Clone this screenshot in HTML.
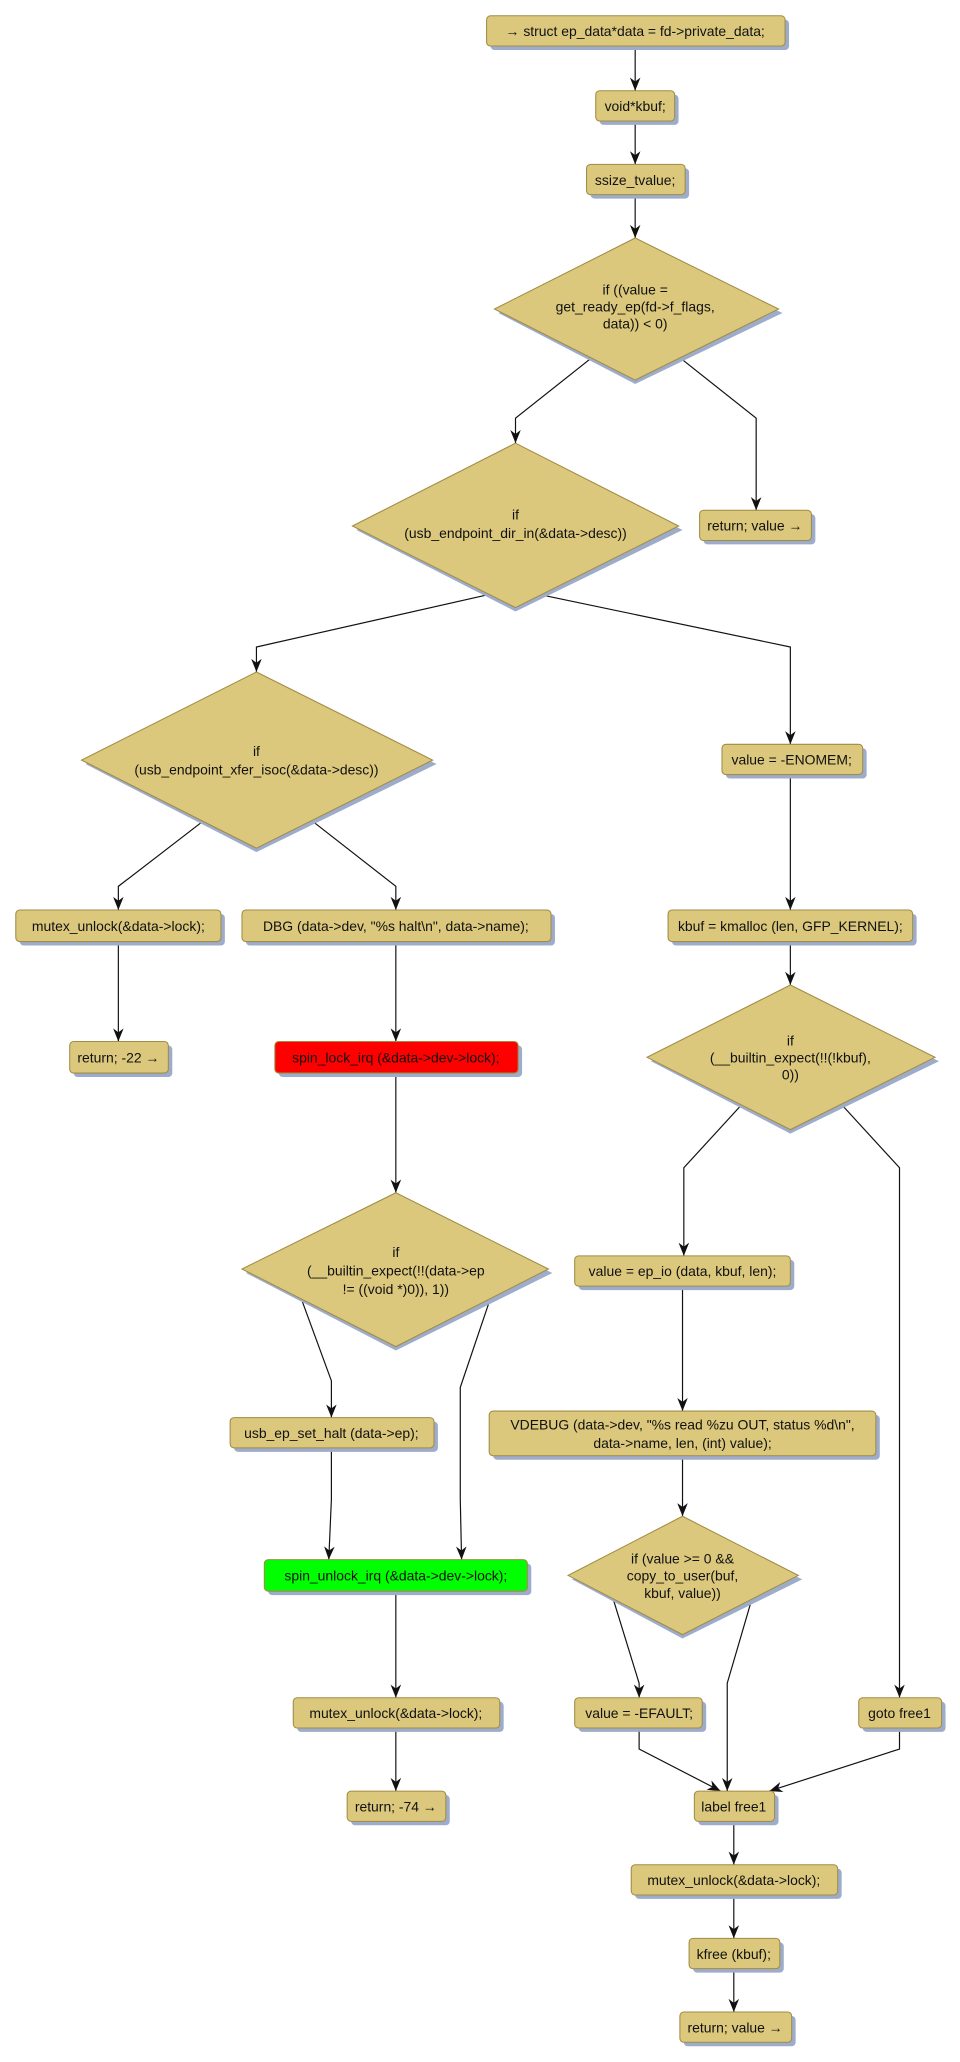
<!DOCTYPE html>
<html><head><meta charset="utf-8"><style>
html,body{margin:0;padding:0;background:#fff;}
svg{display:block;}
text{font-family:"Liberation Sans","DejaVu Sans",sans-serif;font-size:10.6px;fill:#111;text-anchor:middle;}
.n{fill:#dbc87c;stroke:#a08c45;stroke-width:0.8;}
.s{fill:#9eaccb;}
.e{fill:none;stroke:#111;stroke-width:0.9;}
</style></head><body>
<svg width="960" height="2062" viewBox="0 0 730 1568" preserveAspectRatio="none" xmlns="http://www.w3.org/2000/svg">
<defs>
<marker id="b" viewBox="0 0 10 8" markerWidth="10" markerHeight="8" refX="10" refY="4" orient="auto" markerUnits="userSpaceOnUse"><path d="M0,0 L10,4 L0,8 L3,4 Z" fill="#111"/></marker></defs>

<g class="e" marker-end="url(#b)">
<path d="M483,35 V69"/>
<path d="M483,92 V125"/>
<path d="M483,148 V181"/>
<path d="M450,272 L392,318 V337"/>
<path d="M517,272 L575,318 V388"/>
<path d="M372,452 L195,492 V511"/>
<path d="M410,452 L601,492 V566"/>
<path d="M155,624 L90,674 V692"/>
<path d="M237,624 L301,674 V692"/>
<path d="M601,589 V692"/>
<path d="M601,716 V749"/>
<path d="M90,716 V792"/>
<path d="M301,716 V792"/>
<path d="M301,816 V907"/>
<path d="M564,840 L520,888 V955"/>
<path d="M640,840 L684,888 V1291"/>
<path d="M230,990 L252,1050 V1078"/>
<path d="M372,990 L350,1055 V1140 L351,1186"/>
<path d="M519,978 V1073"/>
<path d="M252,1101 V1140 L250,1186"/>
<path d="M519,1107 V1153"/>
<path d="M466,1215 L486,1280 V1291"/>
<path d="M572,1215 L553,1280 V1362"/>
<path d="M301,1210 V1291"/>
<path d="M301,1314 V1362"/>
<path d="M486,1314 V1330 L548,1362"/>
<path d="M684,1314 V1330 L585,1362"/>
<path d="M558,1385 V1418"/>
<path d="M558,1441 V1474"/>
<path d="M558,1497 V1530"/>
</g>

<g>
<rect class="s" x="373" y="15" width="227" height="23" rx="3"/><rect class="n" x="370" y="12" width="227" height="23" rx="3"/>
<text x="483" y="27.5">→ struct ep_data*data = fd-&gt;private_data;</text>
<rect class="s" x="456" y="72" width="60" height="23" rx="3"/><rect class="n" x="453" y="69" width="60" height="23" rx="3"/>
<text x="483" y="84.5">void*kbuf;</text>
<rect class="s" x="449" y="128" width="75" height="23" rx="3"/><rect class="n" x="446" y="125" width="75" height="23" rx="3"/>
<text x="483" y="140.5">ssize_tvalue;</text>

<path class="s" d="M483,184 L595,238 L483,292 L379,238Z"/><path class="n" d="M483,181 L592,235 L483,289 L376,235Z"/>
<text x="483" y="224">if ((value =</text><text x="483" y="237">get_ready_ep(fd-&gt;f_flags,</text><text x="483" y="250">data)) &lt; 0)</text>

<rect class="s" x="535" y="391" width="85" height="23" rx="3"/><rect class="n" x="532" y="388" width="85" height="23" rx="3"/>
<text x="574" y="403.5">return; value →</text>

<path class="s" d="M392,340 L519,403 L392,465 L271,403Z"/><path class="n" d="M392,337 L516,400 L392,462 L268,400Z"/>
<text x="392" y="395">if</text><text x="392" y="409">(usb_endpoint_dir_in(&amp;data-&gt;desc))</text>

<path class="s" d="M195,514 L332,581 L195,648 L65,581Z"/><path class="n" d="M195,511 L329,578 L195,645 L62,578Z"/>
<text x="195" y="575">if</text><text x="195" y="589">(usb_endpoint_xfer_isoc(&amp;data-&gt;desc))</text>

<rect class="s" x="552" y="569" width="107" height="23" rx="3"/><rect class="n" x="549" y="566" width="107" height="23" rx="3"/>
<text x="602" y="581.5">value = -ENOMEM;</text>

<rect class="s" x="15" y="695" width="156" height="24" rx="3"/><rect class="n" x="12" y="692" width="156" height="24" rx="3"/>
<text x="90" y="708">mutex_unlock(&amp;data-&gt;lock);</text>
<rect class="s" x="187" y="695" width="235" height="24" rx="3"/><rect class="n" x="184" y="692" width="235" height="24" rx="3"/>
<text x="301" y="708">DBG (data-&gt;dev, "%s halt\n", data-&gt;name);</text>
<rect class="s" x="511" y="695" width="186" height="24" rx="3"/><rect class="n" x="508" y="692" width="186" height="24" rx="3"/>
<text x="601" y="708">kbuf = kmalloc (len, GFP_KERNEL);</text>

<rect class="s" x="56" y="795" width="75" height="24" rx="3"/><rect class="n" x="53" y="792" width="75" height="24" rx="3"/>
<text x="90" y="808">return; -22 →</text>
<rect class="s" x="212" y="795" width="185" height="24" rx="3"/><rect x="209" y="792" width="185" height="24" rx="3" fill="#ff0000" stroke="#a08c45" stroke-width="0.8"/>
<text x="301" y="808">spin_lock_irq (&amp;data-&gt;dev-&gt;lock);</text>

<path class="s" d="M601,752 L714,807 L601,862 L495,807Z"/><path class="n" d="M601,749 L711,804 L601,859 L492,804Z"/>
<text x="601" y="795">if</text><text x="601" y="808">(__builtin_expect(!!(!kbuf),</text><text x="601" y="821">0))</text>

<path class="s" d="M301,910 L420,968 L301,1027 L187,968Z"/><path class="n" d="M301,907 L417,965 L301,1024 L184,965Z"/>
<text x="301" y="956">if</text><text x="301" y="970">(__builtin_expect(!!(data-&gt;ep</text><text x="301" y="984">!= ((void *)0)), 1))</text>

<rect class="s" x="440" y="958" width="164" height="23" rx="3"/><rect class="n" x="437" y="955" width="164" height="23" rx="3"/>
<text x="519" y="970.5">value = ep_io (data, kbuf, len);</text>

<rect class="s" x="178" y="1081" width="155" height="23" rx="3"/><rect class="n" x="175" y="1078" width="155" height="23" rx="3"/>
<text x="252" y="1093.5">usb_ep_set_halt (data-&gt;ep);</text>

<rect class="s" x="375" y="1076" width="294" height="34" rx="3"/><rect class="n" x="372" y="1073" width="294" height="34" rx="3"/>
<text x="519" y="1087">VDEBUG (data-&gt;dev, "%s read %zu OUT, status %d\n",</text>
<text x="519" y="1101">data-&gt;name, len, (int) value);</text>

<rect class="s" x="204" y="1189" width="200" height="24" rx="3"/><rect x="201" y="1186" width="200" height="24" rx="3" fill="#00ff00" stroke="#a08c45" stroke-width="0.8"/>
<text x="301" y="1202">spin_unlock_irq (&amp;data-&gt;dev-&gt;lock);</text>

<path class="s" d="M519,1156 L610,1201 L519,1246 L435,1201Z"/><path class="n" d="M519,1153 L607,1198 L519,1243 L432,1198Z"/>
<text x="519" y="1189">if (value &gt;= 0 &amp;&amp;</text><text x="519" y="1202">copy_to_user(buf,</text><text x="519" y="1215">kbuf, value))</text>

<rect class="s" x="226" y="1294" width="157" height="23" rx="3"/><rect class="n" x="223" y="1291" width="157" height="23" rx="3"/>
<text x="301" y="1306.5">mutex_unlock(&amp;data-&gt;lock);</text>
<rect class="s" x="440" y="1294" width="97" height="23" rx="3"/><rect class="n" x="437" y="1291" width="97" height="23" rx="3"/>
<text x="486" y="1306.5">value = -EFAULT;</text>
<rect class="s" x="656" y="1294" width="63" height="23" rx="3"/><rect class="n" x="653" y="1291" width="63" height="23" rx="3"/>
<text x="684" y="1306.5">goto free1</text>

<rect class="s" x="267" y="1365" width="75" height="23" rx="3"/><rect class="n" x="264" y="1362" width="75" height="23" rx="3"/>
<text x="301" y="1377.5">return; -74 →</text>
<rect class="s" x="531" y="1365" width="61" height="23" rx="3"/><rect class="n" x="528" y="1362" width="61" height="23" rx="3"/>
<text x="558" y="1377.5">label free1</text>

<rect class="s" x="483" y="1421" width="157" height="23" rx="3"/><rect class="n" x="480" y="1418" width="157" height="23" rx="3"/>
<text x="558" y="1433.5">mutex_unlock(&amp;data-&gt;lock);</text>
<rect class="s" x="527" y="1477" width="69" height="23" rx="3"/><rect class="n" x="524" y="1474" width="69" height="23" rx="3"/>
<text x="558" y="1489.5">kfree (kbuf);</text>
<rect class="s" x="520" y="1533" width="85" height="23" rx="3"/><rect class="n" x="517" y="1530" width="85" height="23" rx="3"/>
<text x="559" y="1545.5">return; value →</text>
</g>
</svg>
</body></html>
